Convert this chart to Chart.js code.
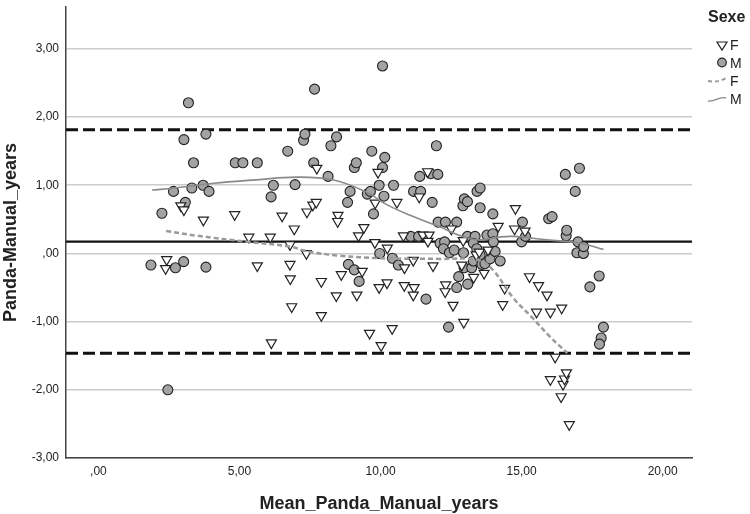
<!DOCTYPE html>
<html>
<head>
<meta charset="utf-8">
<script src="https://cdn.jsdelivr.net/npm/chart.js@4.4.0/dist/chart.umd.min.js"></script>
<style>
  html, body { margin: 0; padding: 0; background: #fff; }
  #wrap { width: 750px; height: 514px; }
</style>
</head>
<body>
<div id="wrap"><canvas id="chart" width="750" height="514"></canvas></div>
<script>
// Bland-Altman: mean of the two methods (x) vs difference (y)
const femaleX = [2.42,2.38,2.92,3.03,3.72,4.83,5.33,5.63,6.09,6.13,6.51,6.79,6.94,6.79,6.80,6.85,7.37,7.39,7.60,7.72,7.74,7.90,7.90,8.43,8.49,8.48,8.61,9.16,9.22,9.35,9.41,9.61,9.81,9.80,9.91,9.95,10.02,10.24,10.23,10.41,10.58,10.81,10.85,10.84,11.16,11.19,11.16,11.37,11.50,11.67,11.72,11.68,11.86,12.31,12.29,12.51,12.57,12.95,12.88,12.93,13.30,13.39,13.50,13.67,13.81,14.17,14.33,14.40,14.78,14.75,15.12,15.28,15.53,15.60,15.90,16.02,16.19,16.02,16.42,16.40,16.47,16.52,16.59,16.69];
const femaleY = [-0.09,-0.22,0.70,0.64,0.49,0.57,0.24,-0.18,0.24,-1.31,0.55,0.13,0.36,-0.16,-0.37,-0.78,0.00,0.61,0.71,0.75,1.25,-0.41,-0.91,-0.62,0.56,0.47,-0.31,-0.61,0.26,-0.26,0.38,-1.17,0.74,0.16,1.19,-0.50,-1.35,0.08,-0.43,-1.10,0.75,0.26,-0.21,-0.47,-0.10,-0.50,-0.61,0.83,0.27,1.20,0.27,0.18,-0.18,-0.46,-0.56,0.36,-0.76,-1.01,-0.17,0.19,-0.35,-0.02,0.02,-0.29,0.05,0.40,-0.75,-0.51,0.66,0.36,0.33,-0.34,-0.86,-0.47,-0.61,-0.86,-1.52,-1.85,-0.80,-2.10,-1.92,-1.84,-1.75,-2.51];

const maleX = [1.86,2.25,2.46,2.66,2.73,3.02,3.03,3.08,3.19,3.31,3.37,3.71,3.81,3.81,3.92,4.85,5.12,5.63,6.12,6.20,6.71,6.97,7.27,7.32,7.63,7.66,8.14,8.24,8.44,8.83,8.92,9.07,9.14,8.86,9.07,9.24,9.53,9.64,9.69,9.75,9.95,9.97,10.07,10.07,10.15,10.12,10.42,10.46,10.63,11.07,11.17,11.39,11.42,11.35,11.61,11.78,11.83,11.98,12.03,12.04,12.11,12.27,12.23,12.30,12.41,12.44,12.61,12.70,12.70,12.77,12.92,12.97,12.94,12.96,13.08,13.09,13.08,13.35,13.29,13.41,13.23,13.29,13.42,13.53,13.53,13.53,13.59,13.70,13.77,13.98,13.88,14.00,14.06,13.98,14.24,15.03,15.00,15.14,15.96,16.08,16.55,16.58,16.60,16.90,16.96,17.00,17.05,17.19,17.20,17.42,17.75,17.90,17.82,17.76];
const maleY = [-0.17,0.59,-2.00,0.91,-0.21,-0.12,1.67,0.75,2.21,0.96,1.33,1.00,1.75,-0.20,0.91,1.33,1.33,1.33,0.83,1.00,1.50,1.01,1.66,1.75,1.33,2.41,1.13,1.58,1.71,0.75,0.91,1.26,1.33,-0.16,-0.24,-0.41,0.87,0.91,1.50,0.58,1.00,0.00,2.75,1.26,1.41,0.84,-0.07,1.00,-0.17,0.25,0.91,1.13,0.91,0.25,-0.67,1.17,0.75,1.58,1.16,0.46,0.15,0.17,0.07,0.46,-1.08,0.01,0.05,0.46,-0.50,-0.34,0.70,0.80,0.01,-0.21,0.76,-0.45,0.25,0.25,0.15,0.07,-0.21,-0.11,0.91,0.96,0.67,-0.02,-0.16,-0.15,0.27,0.29,-0.08,0.17,0.03,0.58,-0.11,0.46,0.17,0.25,0.51,0.54,1.16,0.26,0.34,0.91,0.01,0.17,1.25,0.00,0.10,-0.49,-0.33,-1.08,-1.24,-1.33];

// loess fit lines per sex
const fitFX = [2.4,3.5,5.3,6.8,7.4,8.5,10.0,12.1,13.5,14.0,14.7,15.4,16.0,16.62];
const fitFY = [0.33,0.26,0.17,0.10,0.03,-0.03,-0.07,-0.08,-0.10,-0.25,-0.65,-0.95,-1.22,-1.46];
const fitMX = [1.9,2.7,4.1,5.6,7.0,8.3,9.5,10.2,11.05,12.1,12.9,13.5,14.2,14.7,15.9,17.1,17.9];
const fitMY = [0.93,0.96,1.03,1.08,1.12,1.08,0.90,0.72,0.56,0.39,0.25,0.20,0.24,0.25,0.20,0.15,0.06];

const meanDiff = 0.175;
const upperLimit = 1.815;
const lowerLimit = -1.465;

const xTicks = [0, 5, 10, 15, 20];
const yTicks = [-3, -2, -1, 0, 1, 2, 3];
const xMin = -1.15, xMax = 21.04;
const yMin = -3, yMax = 3.615;

const FONT = "'Liberation Sans', Arial, sans-serif";

function pairs(xs, ys) {
  return xs.map((x, i) => ({ x: x, y: ys[i] }));
}
function hline(v) {
  return [{ x: xMin, y: v }, { x: xMax, y: v }];
}
function fmt(v) {
  let s = Math.abs(v).toFixed(2).replace('.', ',');
  if (s.startsWith('0,')) s = s.substring(1);
  return (v < 0 ? '-' : '') + s;
}

const legendPlugin = {
  id: 'sexeLegend',
  afterDraw(chart) {
    const ctx = chart.ctx;
    ctx.save();
    ctx.fillStyle = '#222';
    ctx.textBaseline = 'middle';
    ctx.font = "bold 16px " + FONT;
    ctx.fillText('Sexe', 708, 18);
    ctx.font = "14px " + FONT;
    // triangle F
    ctx.beginPath();
    ctx.moveTo(717, 42); ctx.lineTo(727, 42); ctx.lineTo(722, 50); ctx.closePath();
    ctx.fillStyle = '#fff'; ctx.fill();
    ctx.strokeStyle = '#222'; ctx.lineWidth = 1.2; ctx.stroke();
    ctx.fillStyle = '#222';
    ctx.fillText('F', 730, 46);
    // circle M
    ctx.beginPath();
    ctx.arc(722, 62.5, 4.3, 0, Math.PI * 2);
    ctx.fillStyle = '#a3a3a3'; ctx.fill();
    ctx.strokeStyle = '#222'; ctx.stroke();
    ctx.fillStyle = '#222';
    ctx.fillText('M', 730, 64);
    // dashed F
    ctx.beginPath();
    ctx.moveTo(708, 81); ctx.quadraticCurveTo(717, 83, 726, 78);
    ctx.setLineDash([4, 3]); ctx.strokeStyle = '#999'; ctx.lineWidth = 2; ctx.stroke();
    ctx.setLineDash([]);
    ctx.fillText('F', 730, 82);
    // solid M
    ctx.beginPath();
    ctx.moveTo(708, 101); ctx.bezierCurveTo(715, 102, 719, 96, 726, 98);
    ctx.strokeStyle = '#888'; ctx.lineWidth = 1.4; ctx.stroke();
    ctx.fillText('M', 730, 100);
    ctx.restore();
  }
};

const ctx = document.getElementById('chart').getContext('2d');
new Chart(ctx, {
  type: 'scatter',
  data: {
    datasets: [
      { label: 'Fit M', data: pairs(fitMX, fitMY), showLine: true, borderColor: '#8a8a8a', borderWidth: 1.6, pointRadius: 0, tension: 0.4, order: 0 },
      { label: 'Fit F', data: pairs(fitFX, fitFY), showLine: true, borderColor: '#9a9a9a', borderWidth: 2.5, borderDash: [5, 3], pointRadius: 0, tension: 0.4, order: 0 },
      { label: 'F', data: pairs(femaleX, femaleY), pointStyle: 'triangle', rotation: 180, pointRadius: 5.8, backgroundColor: '#ffffff', borderColor: '#222', borderWidth: 1.2, order: 1 },
      { label: 'M', data: pairs(maleX, maleY), pointStyle: 'circle', pointRadius: 5, backgroundColor: '#a3a3a3', borderColor: '#222', borderWidth: 1.1, order: 1 },
      { label: 'Mean', data: hline(meanDiff), showLine: true, borderColor: '#111', borderWidth: 2.2, pointRadius: 0, order: 2 },
      { label: 'Upper', data: hline(upperLimit), showLine: true, borderColor: '#111', borderWidth: 3, borderDash: [12, 5], pointRadius: 0, order: 2 },
      { label: 'Lower', data: hline(lowerLimit), showLine: true, borderColor: '#111', borderWidth: 3, borderDash: [12, 5], pointRadius: 0, order: 2 }
    ]
  },
  options: {
    responsive: false,
    animation: false,
    layout: { padding: { left: 0, right: 58, top: 0, bottom: 0 } },
    plugins: { legend: { display: false }, tooltip: { enabled: false } },
    scales: {
      x: {
        type: 'linear', min: xMin, max: xMax,
        afterBuildTicks: s => { s.ticks = xTicks.map(v => ({ value: v })); },
        afterFit: s => { s.height = 56; },
        grid: { display: false, drawTicks: false },
        border: { display: true, color: '#444', width: 1.5 },
        ticks: { callback: v => fmt(v), color: '#222', padding: 6, maxRotation: 0, font: { family: FONT, size: 12 } },
        title: { display: true, text: 'Mean_Panda_Manual_years', color: '#222', padding: { top: 0, bottom: -1 }, font: { family: FONT, size: 18, weight: 'bold' } }
      },
      y: {
        type: 'linear', min: yMin, max: yMax,
        afterBuildTicks: s => { s.ticks = yTicks.map(v => ({ value: v })); },
        afterFit: s => { s.width = 66; s.paddingTop = 0; s.paddingBottom = 0; },
        grid: { color: '#cccccc', lineWidth: 1.6, drawTicks: false },
        border: { display: true, color: '#444', width: 1.5 },
        ticks: { callback: v => fmt(v), color: '#222', padding: 7, font: { family: FONT, size: 12 } },
        title: { display: true, text: 'Panda-Manual_years', color: '#222', padding: { top: 0, bottom: 0 }, font: { family: FONT, size: 18, weight: 'bold' } }
      }
    }
  },
  plugins: [legendPlugin]
});
</script>
</body>
</html>
